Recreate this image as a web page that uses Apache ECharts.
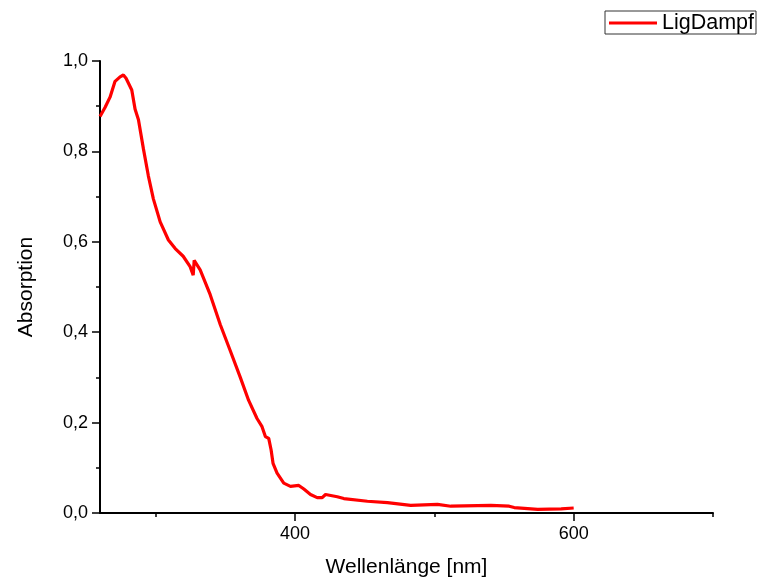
<!DOCTYPE html>
<html>
<head>
<meta charset="utf-8">
<script src="https://cdn.jsdelivr.net/npm/echarts@6/dist/echarts.min.js"></script>
<style>
html,body{margin:0;padding:0;background:#fff;}
#chart{width:759px;height:583px;}
</style>
</head>
<body>
<div id="chart"></div>
<script>
var seriesName = 'LigDampf';
var wavelength = [260, 263.6, 267.2, 270.8, 274.4, 276.8, 278.7, 282.8, 285.2, 287.6, 291.2, 294.7, 298.3, 303.2, 309.1, 314, 319.7, 324.7, 326.9, 327.6, 331.9, 339.1, 346.3, 353.5, 360.7, 366.7, 372.7, 376.3, 378.7, 381.1, 382.8, 384.2, 387.1, 391.9, 396.7, 402.7, 406.3, 411.1, 415.9, 419.5, 421.9, 423.1, 430.3, 435, 451.9, 466.3, 483, 502.2, 511.8, 540.6, 553.7, 557.3, 574.2, 591, 600];
var absorption = [0.877, 0.897, 0.92, 0.955, 0.965, 0.969, 0.962, 0.936, 0.893, 0.87, 0.805, 0.746, 0.695, 0.644, 0.604, 0.585, 0.568, 0.545, 0.526, 0.559, 0.538, 0.483, 0.417, 0.359, 0.30, 0.249, 0.209, 0.191, 0.169, 0.165, 0.14, 0.11, 0.088, 0.066, 0.059, 0.061, 0.053, 0.041, 0.034, 0.034, 0.041, 0.037, 0.036, 0.032, 0.026, 0.023, 0.017, 0.019, 0.015, 0.017, 0.015, 0.012, 0.008, 0.009, 0.011];
var xMajorTicks = [400, 600];
var xMinorTicks = [300, 500, 700];
var xRange = [260, 700];
var yRange = [0, 1];

var data = wavelength.map(function (x, i) { return [x, absorption[i]]; });
var font = 'Liberation Sans, Arial, sans-serif';
var chart = echarts.init(document.getElementById('chart'), null, {renderer: 'canvas'});
chart.setOption({
  animation: false,
  backgroundColor: '#fff',
  grid: {left: 100, right: 46, top: 61, bottom: 66, containLabel: false},
  legend: {
    left: 605, top: 11,
    padding: [1, 2, 0, 4],
    borderColor: '#333', borderWidth: 1,
    icon: 'rect', itemWidth: 48, itemHeight: 3,
    textStyle: {fontFamily: font, fontSize: 21.5, color: '#000', padding: [0, 0, 0, 0]},
    data: [seriesName]
  },
  xAxis: [{
    type: 'value', min: xRange[0], max: xRange[1],
    name: 'Wellenlänge [nm]', nameLocation: 'middle', nameGap: 44,
    nameTextStyle: {fontFamily: font, fontSize: 21, color: '#000'},
    axisLine: {show: true, onZero: false, lineStyle: {color: '#000', width: 2}},
    axisTick: {show: true, inside: false, length: 8, customValues: xMajorTicks, lineStyle: {color: '#000', width: 1.5}},
    axisLabel: {show: true, customValues: xMajorTicks, margin: 12, fontFamily: font, fontSize: 18, color: '#000'},
    splitLine: {show: false}
  }, {
    type: 'value', min: xRange[0], max: xRange[1], position: 'bottom',
    axisLine: {show: false},
    axisTick: {show: true, inside: false, length: 4, customValues: xMinorTicks, lineStyle: {color: '#000', width: 1.5}},
    axisLabel: {show: false},
    splitLine: {show: false}
  }],
  yAxis: {
    type: 'value', min: yRange[0], max: yRange[1], interval: 0.2,
    name: 'Absorption', nameLocation: 'middle', nameGap: 63, nameRotate: 90,
    nameTextStyle: {fontFamily: font, fontSize: 21, color: '#000'},
    axisLine: {show: true, lineStyle: {color: '#000', width: 2}},
    axisTick: {show: true, inside: false, length: 8, lineStyle: {color: '#000', width: 1.5}},
    minorTick: {show: true, splitNumber: 2, length: 4, lineStyle: {color: '#000', width: 1.5}},
    axisLabel: {margin: 12, fontFamily: font, fontSize: 18, color: '#000',
      formatter: function (v) { return v.toFixed(1).replace('.', ','); }},
    splitLine: {show: false}
  },
  series: [{
    name: seriesName, type: 'line', xAxisIndex: 0, data: data,
    showSymbol: false, symbol: 'none',
    itemStyle: {color: '#ff0000'},
    lineStyle: {color: '#ff0000', width: 3.2}
  }]
});
</script>
</body>
</html>
